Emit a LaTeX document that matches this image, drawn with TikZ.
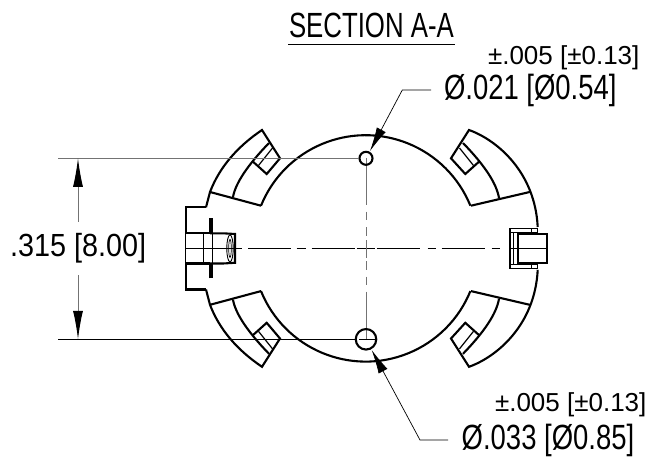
\documentclass[tikz,border=0pt]{standalone}
\usepackage{fontspec}
\usepackage{graphicx}
\setmainfont{Liberation Sans}
\usetikzlibrary{arrows.meta}
\newcommand{\lbl}[3]{\scalebox{#1}[1]{\fontsize{#2}{#2}\selectfont #3}}
\tikzset{
  heavy/.style={line width=2.1pt,line join=miter,black},
  medium/.style={line width=1.2pt,black},
  light/.style={line width=0.8pt,black},
  dimgray/.style={line width=1pt,color=black!55},
  leader/.style={line width=0.7pt,black},
  dimtip/.style={-{Latex[length=28.5pt,width=10pt,black]}},
  leadtip/.style={-{Latex[length=24pt,width=10pt]}},
  txt/.style={anchor=base west,inner sep=0pt,outer sep=0pt,text=black}
}
\newcommand{\upperhalf}{%
  % main circle arc
  \draw[heavy] (261,205.7) arc[start angle=157.9,end angle=22.1,radius=113pt];
  % left lobe
  \draw[heavy] (206,207.3) -- (210,192) .. controls (219.3,167.7) and (236.7,147.1) .. (262,130) -- (280,158.3) -- (266.7,174) -- (253,161.7);
  \draw[heavy] (210,192) -- (261,205.7);
  \draw[heavy] (233,197) .. controls (235.5,183.2) and (247.5,165.2) .. (269,143);
  \draw[medium] (258.5,165.5) -- (272.5,148);
  % right lobe
  \draw[heavy] (537.7,227) .. controls (535,172) and (497,140) .. (469,130) -- (451,158.3) -- (465.3,174) -- (479,161.7);
  \draw[heavy] (471,205.7) -- (531,191.7);
  \draw[heavy] (499,198) .. controls (496.5,183.2) and (484.5,165.2) .. (463,143);
  \draw[medium] (473.5,165.5) -- (459.5,148);
  % left stub outline
  \draw[heavy] (206,207.3) -- (185.7,207.3) -- (185.7,233.3) -- (210,233.3);
  \draw[heavy] (210,233.3) -- (223,233.3) -- (235,234) -- (235,248.4);
  % pin flange
  \draw[line width=4.2pt] (210.7,218.5) -- (210.7,233.3);
  % right tab
  \draw[medium] (537.7,228.3) -- (510,228.3) -- (510,248.4);
  \draw[medium] (510,232.3) -- (537.7,232.3);
  \draw[medium] (513.3,232.3) -- (513.3,248.4);
  \draw[heavy] (518.3,248.4) -- (518.3,234) -- (546.7,234) -- (546.7,248.4);
  \draw[medium] (531.7,228.3) -- (531.7,234);
  \draw[medium] (537.7,228.3) -- (537.7,234);
}
\begin{document}
\begin{tikzpicture}[x=1pt,y=-1pt]
\useasboundingbox (0,0) rectangle (653,465);
\coordinate (centre) at (366,248.4);
\upperhalf
\begin{scope}[shift={(0,496.8)},yscale=-1]
\upperhalf
\end{scope}
% pin details
\draw[light] (185.7,233) -- (185.7,264);
\draw[light] (203,233) -- (203,264);
\draw[light] (212.5,233) -- (212.5,264);
\draw[line width=0.9pt] (230,248.4) ellipse[x radius=3.2pt,y radius=13.5pt];
\draw[line width=0.7pt] (230,248.4) ellipse[x radius=1.3pt,y radius=9pt];
% centre lines
\draw[light] (186,248.4) -- (241.7,248.4);
\draw[light] (248.3,248.4) -- (291,248.4);
\draw[light] (296.7,248.4) -- (305.7,248.4);
\draw[light] (311.7,248.4) -- (355,248.4);
\draw[light] (356.7,248.4) -- (375,248.4);
\draw[light] (376.7,248.4) -- (420,248.4);
\draw[light] (427.7,248.4) -- (435.7,248.4);
\draw[light] (441.7,248.4) -- (485,248.4);
\draw[light] (491.7,248.4) -- (500,248.4);
\draw[light] (509.3,248.4) -- (546,248.4);
\draw[dimgray] (366,158) -- (366,205);
\draw[dimgray] (366,211.7) -- (366,220);
\draw[dimgray] (366,227.3) -- (366,236);
\draw[dimgray] (366,240) -- (366,258);
\draw[dimgray] (366,261) -- (366,270);
\draw[dimgray] (366,276.7) -- (366,285);
\draw[dimgray] (366,291.7) -- (366,339.4);
% holes
\node[draw,heavy,circle,minimum size=13pt,inner sep=0pt] (holeA) at (366,158.3) {};
\node[draw,heavy,circle,minimum size=20.5pt,inner sep=0pt] (holeB) at (366,339.3) {};
\draw[light] (359,339.3) -- (376,339.3);
% extension lines
\coordinate (extA) at (58.3,158.3);
\coordinate (extB) at (58.3,339.3);
\draw[dimgray] (extA) -- (holeA.west);
\draw[leader] (extB) -- (holeB.west);
% dimension
\coordinate (tipA) at (78,158.3);
\coordinate (tipB) at (78,339.3);
\node[txt] (dimtext) at (10,256.7) {\lbl{0.90}{32}{.315 [8.00]}};
\coordinate (dimU) at (78,221.7);
\coordinate (dimL) at (78,275);
\draw[dimgray,dimtip] (dimU) -- (tipA);
\draw[dimgray,dimtip] (dimL) -- (tipB);
% title
\node[txt] (title) at (289,37.3) {\lbl{0.737}{35}{SECTION A-A}};
\coordinate (ulL) at (288,44.5);
\coordinate (ulR) at (455,44.5);
\draw[line width=1.5pt] (ulL) -- (ulR);
% callouts
\node[txt] (tolA) at (488,64.3) {\lbl{1}{26}{±.005 [±0.13]}};
\node[txt] (diaA) at (444,99.3) {\lbl{0.785}{35}{Ø.021 [Ø0.54]}};
\node[txt] (tolB) at (495,411.7) {\lbl{1}{26}{±.005 [±0.13]}};
\node[txt] (diaB) at (461.7,449) {\lbl{0.785}{35}{Ø.033 [Ø0.85]}};
\coordinate (la0) at (431,90);
\coordinate (la1) at (402.3,90);
\coordinate (la2) at (370,151);
\draw[leader,leadtip] (la0) -- (la1) -- (la2);
\coordinate (lb0) at (448,440);
\coordinate (lb1) at (420,440);
\coordinate (lb2) at (371.7,350);
\draw[leader,leadtip] (lb0) -- (lb1) -- (lb2);
\end{tikzpicture}
\end{document}
